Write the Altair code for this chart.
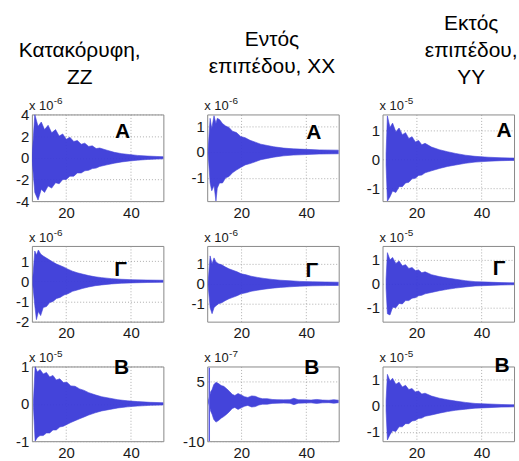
import altair as alt
import pandas as pd

FONT = "Liberation Sans"
BLUE = "#3a3ad8"
XDOM = [9.5, 50]
XTICKS = [20, 40]

# ---------- column titles ----------
TITLE_ZZ = ["Κατακόρυφη,", "ZZ"]
TITLE_XX = ["Εντός", "επιπέδου, XX"]
TITLE_YY = ["Εκτός", "επιπέδου,", "YY"]

# ---------- row 1 (Α) ----------
X_ZZ_A = [9.6, 10.4, 11.4, 12.4, 13.4, 14.5, 15.6, 16.8, 17.9, 19.0, 20.1, 21.2, 22.4, 23.5, 24.7, 25.8, 27.0, 28.1, 29.3, 30.4, 32.6, 34.9, 37.2, 39.5, 42, 45, 48, 50]
UP_ZZ_A = [0.3, 4.0, 2.9, 3.3, 2.6, 3.0, 2.3, 2.6, 2.0, 2.2, 1.7, 1.9, 1.5, 1.6, 1.25, 1.35, 1.05, 1.1, 0.85, 0.9, 0.7, 0.5, 0.38, 0.3, 0.22, 0.16, 0.12, 0.1]
LO_ZZ_A = [-0.3, -3.2, -3.9, -2.9, -3.2, -2.6, -2.8, -2.3, -2.4, -2.0, -2.0, -1.7, -1.7, -1.4, -1.4, -1.2, -1.15, -1.0, -0.95, -0.8, -0.65, -0.5, -0.38, -0.3, -0.22, -0.16, -0.12, -0.1]

X_XX_A = [9.8, 10.4, 10.9, 11.6, 12.2, 12.6, 13.3, 14.2, 15.2, 16.2, 17.3, 18.5, 19.8, 21.2, 22.7, 24.3, 26, 28, 30, 33, 36, 40, 44, 50]
UP_XX_A = [0.1, 1.3, 0.9, 1.4, 1.1, 1.3, 1.25, 1.1, 1.0, 0.95, 0.8, 0.75, 0.6, 0.55, 0.45, 0.38, 0.3, 0.25, 0.2, 0.15, 0.12, 0.1, 0.08, 0.07]
LO_XX_A = [-0.1, -1.2, -1.5, -1.3, -1.9, -1.4, -1.2, -1.2, -1.0, -0.95, -0.8, -0.7, -0.6, -0.5, -0.45, -0.38, -0.3, -0.25, -0.2, -0.15, -0.12, -0.1, -0.08, -0.07]

X_YY_A = [10.6, 11.0, 11.8, 12.6, 13.6, 14.6, 15.6, 16.6, 17.6, 18.6, 19.6, 20.6, 21.6, 22.6, 24.6, 27, 29.5, 32, 35, 38, 42, 46, 50]
UP_YY_A = [0.2, 1.5, 1.1, 1.25, 0.95, 1.08, 0.85, 0.92, 0.72, 0.78, 0.6, 0.65, 0.5, 0.55, 0.42, 0.33, 0.26, 0.2, 0.14, 0.1, 0.07, 0.05, 0.04]
LO_YY_A = [-0.2, -1.45, -1.3, -1.1, -1.15, -0.95, -0.95, -0.82, -0.8, -0.68, -0.66, -0.56, -0.55, -0.47, -0.4, -0.32, -0.25, -0.2, -0.14, -0.1, -0.07, -0.05, -0.04]

# ---------- row 2 (Γ) ----------
X_ZZ_G = [9.8, 10.4, 10.9, 11.5, 12.2, 13.0, 14.0, 15.0, 16.0, 17.1, 18.2, 19.4, 20.6, 22, 23.5, 25, 27, 29, 31, 34, 37, 40, 45, 50]
UP_ZZ_G = [0.2, 1.5, 1.3, 1.55, 1.35, 1.25, 1.15, 1.05, 0.95, 0.85, 0.78, 0.7, 0.6, 0.5, 0.42, 0.36, 0.28, 0.22, 0.18, 0.13, 0.1, 0.08, 0.06, 0.05]
LO_ZZ_G = [-0.2, -1.2, -1.9, -1.5, -1.7, -1.3, -1.25, -1.05, -1.0, -0.85, -0.8, -0.68, -0.62, -0.5, -0.43, -0.36, -0.28, -0.22, -0.18, -0.13, -0.1, -0.08, -0.06, -0.05]

X_XX_G = [9.8, 10.4, 11.0, 11.6, 12.2, 13.0, 14.0, 15.0, 16.2, 17.4, 18.7, 20, 21.5, 23, 25, 27, 29.5, 32, 35, 38, 42, 46, 50]
UP_XX_G = [0.1, 1.4, 1.0, 1.3, 1.1, 1.0, 0.95, 0.85, 0.75, 0.68, 0.6, 0.5, 0.45, 0.38, 0.32, 0.27, 0.22, 0.18, 0.15, 0.12, 0.1, 0.09, 0.08]
LO_XX_G = [-0.1, -1.2, -1.5, -1.2, -1.1, -1.0, -0.95, -0.85, -0.75, -0.68, -0.6, -0.5, -0.45, -0.38, -0.32, -0.27, -0.22, -0.18, -0.15, -0.12, -0.1, -0.09, -0.08]

X_YY_G = [10.6, 11.0, 11.8, 12.6, 13.6, 14.6, 15.6, 16.6, 17.6, 18.6, 19.6, 20.6, 21.6, 22.6, 24.6, 27, 29.5, 32, 35, 38, 42, 46, 50]
UP_YY_G = [0.2, 1.3, 1.0, 1.1, 0.85, 0.95, 0.75, 0.8, 0.64, 0.68, 0.55, 0.58, 0.46, 0.5, 0.38, 0.3, 0.24, 0.19, 0.13, 0.09, 0.07, 0.05, 0.04]
LO_YY_G = [-0.2, -1.25, -1.3, -0.98, -1.0, -0.82, -0.84, -0.7, -0.7, -0.6, -0.58, -0.5, -0.48, -0.42, -0.36, -0.29, -0.23, -0.18, -0.13, -0.09, -0.07, -0.05, -0.04]

# ---------- row 3 (Β) ----------
X_ZZ_B = [10.0, 10.5, 11.2, 12.0, 13.0, 14.0, 15.0, 16.0, 17.0, 18.1, 19.2, 20.3, 21.5, 22.8, 24.2, 25.6, 27, 29, 31, 33.5, 36, 39, 42, 46, 50]
UP_ZZ_B = [0.1, 1.0, 0.85, 0.92, 0.8, 0.84, 0.72, 0.76, 0.64, 0.67, 0.57, 0.58, 0.48, 0.47, 0.4, 0.36, 0.3, 0.24, 0.19, 0.15, 0.11, 0.08, 0.06, 0.04, 0.03]
LO_ZZ_B = [-0.1, -1.0, -0.9, -0.85, -0.85, -0.78, -0.78, -0.7, -0.7, -0.62, -0.6, -0.55, -0.5, -0.45, -0.4, -0.35, -0.3, -0.24, -0.19, -0.15, -0.11, -0.08, -0.06, -0.04, -0.03]

X_XX_B = [9.9, 10.3, 10.6, 11.0, 11.5, 12.2, 13.0, 13.8, 14.6, 15.5, 16.4, 17.2, 18.0, 19.0, 20.0, 21.0, 22.0, 23.2, 24.3, 25.4, 26.5, 28, 29.5, 31, 33, 35, 36.2, 37.5, 39.5, 41.5, 43.2, 45, 47, 48.5, 50]
UP_XX_B = [0.3, 1.5, 2.5, 3.0, 4.2, 4.8, 4.5, 4.0, 3.8, 3.2, 2.5, 1.8, 1.5, 2.0, 1.6, 1.2, 1.0, 1.4, 1.3, 0.9, 0.7, 0.7, 0.5, 0.45, 0.4, 0.45, 0.8, 0.45, 0.4, 0.35, 0.5, 0.35, 0.3, 0.45, 0.3]
LO_XX_B = [-0.3, -1.5, -2.5, -3.2, -4.5, -5.2, -4.8, -4.2, -3.8, -3.2, -2.5, -1.8, -1.5, -2.0, -1.6, -1.2, -1.0, -1.4, -1.3, -0.9, -0.7, -0.7, -0.5, -0.45, -0.4, -0.45, -0.8, -0.45, -0.4, -0.35, -0.5, -0.35, -0.3, -0.45, -0.3]
SPIKE_XX_B_X = [10.15]
SPIKE_XX_B_TOP = [8.5]
SPIKE_XX_B_BOT = [-10]

X_YY_B = [10.6, 11.0, 11.8, 12.6, 13.6, 14.6, 15.6, 16.6, 17.6, 18.6, 19.6, 20.6, 21.6, 22.6, 24.6, 27, 29.5, 32, 35, 38, 42, 46, 50]
UP_YY_B = [0.2, 1.2, 0.95, 1.05, 0.82, 0.9, 0.72, 0.78, 0.62, 0.66, 0.53, 0.56, 0.45, 0.48, 0.37, 0.29, 0.23, 0.18, 0.13, 0.09, 0.07, 0.05, 0.04]
LO_YY_B = [-0.2, -1.3, -1.1, -0.95, -0.98, -0.8, -0.8, -0.68, -0.68, -0.58, -0.56, -0.48, -0.47, -0.4, -0.35, -0.28, -0.22, -0.17, -0.13, -0.09, -0.07, -0.05, -0.04]

# y-axis domains, ticks, exponents
YDOM = {
    "ZZ_A": [-4, 4], "XX_A": [-1.9, 1.45], "YY_A": [-1.45, 1.55],
    "ZZ_G": [-2, 1.75], "XX_G": [-1.9, 1.9], "YY_G": [-1.58, 1.58],
    "ZZ_B": [-1, 1], "XX_B": [-10, 8.8], "YY_B": [-1.35, 1.5],
}
YTICKS = {
    "ZZ_A": [-4, -2, 0, 2, 4], "XX_A": [-1, 0, 1], "YY_A": [-1, 0, 1],
    "ZZ_G": [-2, -1, 0, 1], "XX_G": [-1, 0, 1], "YY_G": [-1, 0, 1],
    "ZZ_B": [-1, 0, 1], "XX_B": [-10, -5, 0, 5], "YY_B": [-1, 0, 1],
}
EXPO = {"ZZ_A": "-6", "XX_A": "-6", "YY_A": "-5",
        "ZZ_G": "-6", "XX_G": "-6", "YY_G": "-5",
        "ZZ_B": "-5", "XX_B": "-7", "YY_B": "-5"}
LETTERS = ["Α", "Γ", "Β"]

W = 132
HEIGHTS = [87, 76, 75]


def axis_x():
    return alt.Axis(values=XTICKS, grid=True, gridDash=[1, 2], gridColor="#9a9a9a",
                    gridOpacity=0.8, domain=False, ticks=False, labelFont=FONT,
                    labelFontSize=15, labelColor="#1a1a1a", labelPadding=4,
                    labelFlush=False, title=None)


def axis_y(vals):
    return alt.Axis(values=vals, grid=True, gridDash=[1, 2], gridColor="#9a9a9a",
                    gridOpacity=0.8, domain=False, ticks=False, labelFont=FONT,
                    labelFontSize=15, labelColor="#1a1a1a", labelPadding=3,
                    labelFlush=False, labelOverlap=False, title=None,
                    labelExpr="'' + datum.value")


def one(text):
    return pd.DataFrame({"t": [text]})


def panel(key, xs, up, lo, h, letter, lpos, title=None, tpos=None, spike=None, anchor=False):
    df = pd.DataFrame({"x": xs, "up": up, "lo": lo})
    xsc = alt.Scale(domain=XDOM, nice=False, zero=False)
    ysc = alt.Scale(domain=YDOM[key], nice=False, zero=False)
    layers = []
    layers.append(
        alt.Chart(df).mark_area(color=BLUE, stroke=BLUE, strokeWidth=0.6, clip=True,
                                opacity=0.95)
        .encode(x=alt.X("x:Q", scale=xsc, axis=axis_x()),
                y=alt.Y("up:Q", scale=ysc, axis=axis_y(YTICKS[key])),
                y2="lo:Q")
    )
    if spike is not None:
        sdf = pd.DataFrame({"x": spike[0], "top": spike[1], "bot": spike[2]})
        layers.append(
            alt.Chart(sdf).mark_rule(color="#5a5ae6", strokeWidth=1.4, clip=True)
            .encode(x=alt.X("x:Q", scale=xsc), y=alt.Y("top:Q", scale=ysc), y2="bot:Q")
        )
    # panel letter
    layers.append(
        alt.Chart(one(letter)).mark_text(font=FONT, fontSize=21, fontWeight="bold",
                                         color="black", align="center", baseline="middle")
        .encode(text="t:N", x=alt.value(lpos[0]), y=alt.value(lpos[1]))
    )
    # exponent label "x 10^-n"
    layers.append(
        alt.Chart(one("x 10")).mark_text(font=FONT, fontSize=13, color="#1a1a1a",
                                         align="left", baseline="alphabetic")
        .encode(text="t:N", x=alt.value(-3), y=alt.value(-4))
    )
    layers.append(
        alt.Chart(one(EXPO[key])).mark_text(font=FONT, fontSize=10, color="#1a1a1a",
                                            align="left", baseline="alphabetic")
        .encode(text="t:N", x=alt.value(22), y=alt.value(-10))
    )
    if title is not None:
        for i, line in enumerate(title):
            layers.append(
                alt.Chart(one(line)).mark_text(font=FONT, fontSize=21, color="black",
                                               align="center", baseline="alphabetic")
                .encode(text="t:N", x=alt.value(tpos[0]),
                        y=alt.value(tpos[1] - (len(title) - 1 - i) * 27))
            )
    if anchor:
        layers.append(
            alt.Chart(one("")).mark_rule(opacity=0)
            .encode(x=alt.value(-31), x2=alt.value(-30), y=alt.value(-113))
        )
    return alt.layer(*layers).properties(width=W, height=h)


panels = [
    panel("ZZ_A", X_ZZ_A, UP_ZZ_A, LO_ZZ_A, HEIGHTS[0], LETTERS[0], (91, 18),
          title=TITLE_ZZ, tpos=(48, -31), anchor=True),
    panel("XX_A", X_XX_A, UP_XX_A, LO_XX_A, HEIGHTS[0], LETTERS[0], (107, 19),
          title=TITLE_XX, tpos=(65, -42)),
    panel("YY_A", X_YY_A, UP_YY_A, LO_YY_A, HEIGHTS[0], LETTERS[0], (122, 17),
          title=TITLE_YY, tpos=(89, -31)),
    panel("ZZ_G", X_ZZ_G, UP_ZZ_G, LO_ZZ_G, HEIGHTS[1], LETTERS[1], (89, 24)),
    panel("XX_G", X_XX_G, UP_XX_G, LO_XX_G, HEIGHTS[1], LETTERS[1], (105, 25)),
    panel("YY_G", X_YY_G, UP_YY_G, LO_YY_G, HEIGHTS[1], LETTERS[1], (117, 23)),
    panel("ZZ_B", X_ZZ_B, UP_ZZ_B, LO_ZZ_B, HEIGHTS[2], LETTERS[2], (90, 2)),
    panel("XX_B", X_XX_B, UP_XX_B, LO_XX_B, HEIGHTS[2], LETTERS[2], (105, 2),
          spike=(SPIKE_XX_B_X, SPIKE_XX_B_TOP, SPIKE_XX_B_BOT)),
    panel("YY_B", X_YY_B, UP_YY_B, LO_YY_B, HEIGHTS[2], LETTERS[2], (120, 0)),
]

chart = alt.concat(*panels, columns=3, spacing={"row": 45, "column": 44},
                   bounds="flush").properties(
    padding=0, background="white"
).configure_view(stroke="#8a8a8a", strokeWidth=1)

chart.save("out.html", embed_options={"renderer": "svg", "actions": False})
